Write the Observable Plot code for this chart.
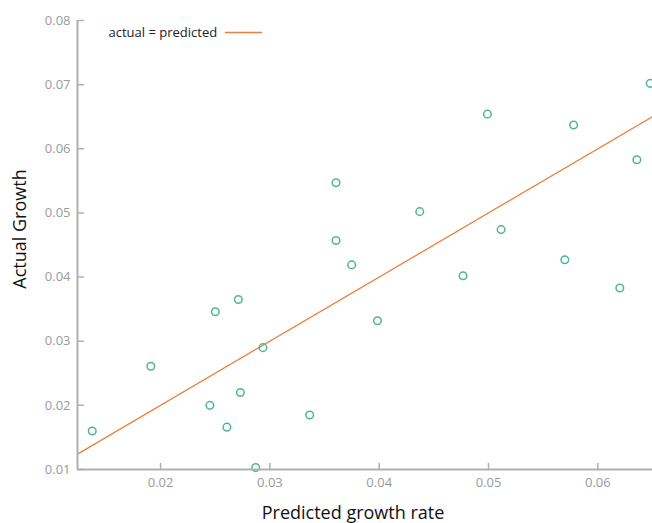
<!DOCTYPE html>
<html>
<head>
<meta charset="utf-8">
<script src="https://cdn.jsdelivr.net/npm/d3@7"></script>
<script src="https://cdn.jsdelivr.net/npm/@observablehq/plot@0.6"></script>
<style>
  html, body { margin: 0; padding: 0; background: #fff; }
  #chart { width: 652px; height: 523px; }
</style>
</head>
<body>
<div id="chart"></div>
<script>
// Data
const predicted = [0.01375, 0.01911, 0.02451, 0.02501, 0.02607, 0.02711, 0.02730, 0.02870, 0.02936, 0.03364,
  0.03605, 0.03605, 0.03748, 0.03984, 0.04371, 0.04767, 0.04990, 0.05115, 0.05698, 0.05778, 0.06201, 0.06357, 0.06479];
const actual = [0.0160, 0.0261, 0.0200, 0.0346, 0.0166, 0.0365, 0.0220, 0.0103, 0.0290, 0.0185,
  0.0547, 0.0457, 0.0419, 0.0332, 0.0502, 0.0402, 0.0654, 0.0474, 0.0427, 0.0637, 0.0383, 0.0583, 0.0702];
const xTicks = [0.02, 0.03, 0.04, 0.05, 0.06];
const yTicks = [0.01, 0.02, 0.03, 0.04, 0.05, 0.06, 0.07, 0.08];
const xDomain = [0.0124, 0.065];
const yDomain = [0.01, 0.08];
const legendLabel = "actual = predicted";

const points = predicted.map((p, i) => ({predicted: p, actual: actual[i]}));

const pointColor = "#4fb78f";
const lineColor = "#e8823f";
const axisColor = "#b0b0b0";
const tickText = "#9a9a9a";

// plain straight segment shape for vectors (no arrowhead)
const segment = {draw(context, l) { context.moveTo(0, 0); context.lineTo(0, -l); }};

const chart = Plot.plot({
  width: 652,
  height: 523,
  marginLeft: 77,
  marginRight: 0,
  marginTop: 20,
  marginBottom: 54,
  style: {fontFamily: "'Open Sans', sans-serif", background: "#fff"},
  x: {domain: xDomain},
  y: {domain: yDomain},
  marks: [
    // identity line
    Plot.link([0], {x1: () => xDomain[0], y1: () => xDomain[0], x2: () => xDomain[1], y2: () => xDomain[1],
      stroke: lineColor, strokeWidth: 1.3}),
    // points
    Plot.dot(points, {x: "predicted", y: "actual", r: 3.8, stroke: pointColor, strokeWidth: 1.5, fill: "none"}),
    // axis lines
    Plot.ruleX([xDomain[0]], {stroke: axisColor, strokeWidth: 2}),
    Plot.ruleY([yDomain[0]], {stroke: axisColor, strokeWidth: 2}),
    // inward tick marks
    Plot.vector(yTicks, {x: () => xDomain[0], y: d => d, length: 6, rotate: 90, anchor: "start", shape: segment, stroke: axisColor, strokeWidth: 1.5}),
    Plot.vector(xTicks, {x: d => d, y: () => yDomain[0], length: 6, rotate: 0, anchor: "start", shape: segment, stroke: axisColor, strokeWidth: 1.5}),
    // tick labels
    Plot.axisY({ticks: yTicks, tickSize: 0, tickPadding: 7, tickFormat: d3.format(".2f"), fontSize: 13, color: tickText, label: null}),
    Plot.axisX({ticks: xTicks, tickSize: 0, tickPadding: 8, tickFormat: d3.format(".2f"), fontSize: 13, color: tickText, label: null}),
    // axis titles
    Plot.text(["Actual Growth"], {frameAnchor: "left", dx: -57, dy: -16, rotate: -90, fontSize: 18, fill: "#111", textAnchor: "middle", lineAnchor: "middle"}),
    Plot.text(["Predicted growth rate"], {frameAnchor: "bottom", dx: -12, dy: 44, fontSize: 18, fill: "#111", textAnchor: "middle", lineAnchor: "middle"}),
    // legend
    Plot.text([legendLabel], {frameAnchor: "top-left", dx: 31, dy: 12, fontSize: 13, fill: "#222", textAnchor: "start", lineAnchor: "middle"}),
    Plot.vector([0], {frameAnchor: "top-left", dx: 148, dy: 12, length: 36, rotate: 90, anchor: "start", shape: segment, stroke: lineColor, strokeWidth: 1.3})
  ]
});
document.getElementById("chart").appendChild(chart);
</script>
</body>
</html>
